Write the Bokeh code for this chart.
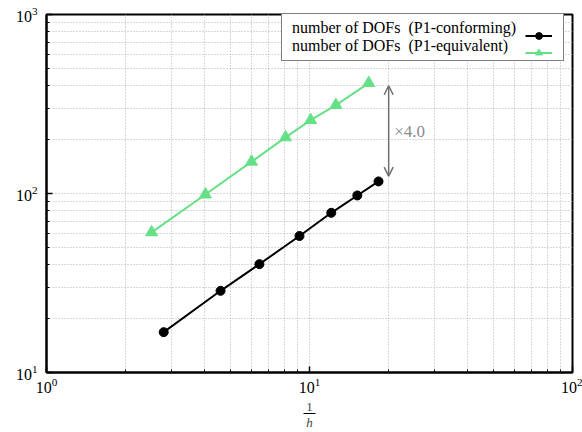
from bokeh.plotting import figure
from bokeh.models import (Legend, LegendItem, Label, Arrow, OpenHead, Range1d,
                          FixedTicker, LogTickFormatter, LogAxis)
from bokeh.embed import file_html
from bokeh.resources import INLINE

# ---- data ----
inv_h_conf = [2.79, 4.59, 6.45, 9.16, 12.1, 15.2, 18.3]
dofs_conf = [16.8, 28.6, 40.3, 57.9, 78.0, 97.5, 116.8]
inv_h_equiv = [2.51, 4.02, 6.02, 8.11, 10.1, 12.6, 16.8]
dofs_equiv = [60.7, 98.7, 150.6, 206.0, 257.0, 312.0, 414.0]
label_conf = "number of DOFs  (P1-conforming)"
label_equiv = "number of DOFs  (P1-equivalent)"
ratio_text = "\u00d74.0"
arrow_x = 20.0
arrow_y_top = 400.0
arrow_y_bottom = 125.0
ratio_x = 21.0
ratio_y = 221.0
x_major = [1, 10, 100]
x_minor = [2, 3, 4, 5, 6, 7, 8, 9, 20, 30, 40, 50, 60, 70, 80, 90]
y_major = [10, 100, 1000]
y_minor = [20, 30, 40, 50, 60, 70, 80, 90, 200, 300, 400, 500, 600, 700, 800, 900]
frac_num = "1"
frac_den = "h"
frac_bar = (9.5, 10.5)

SERIF = "Liberation Serif"
GREEN = "#66e087"
GRAY = "#6e6e6e"

p = figure(width=582, height=432, x_axis_type="log", y_axis_type="log",
           x_range=Range1d(1, 100), y_range=Range1d(10, 1000),
           output_backend="svg", toolbar_location=None,
           min_border_left=46, min_border_right=10, min_border_top=14,
           min_border_bottom=0)
p.background_fill_color = "white"
p.border_fill_color = "white"
p.outline_line_color = "black"
p.outline_line_width = 2
p.outline_line_alpha = 1.0

p.xaxis.ticker = FixedTicker(ticks=x_major, minor_ticks=x_minor)
p.yaxis.ticker = FixedTicker(ticks=y_major, minor_ticks=y_minor)
for ax in (p.xaxis, p.yaxis):
    ax.formatter = LogTickFormatter()
    ax.axis_line_color = "black"
    ax.axis_line_width = 2
    ax.major_tick_in = 6
    ax.major_tick_out = 0
    ax.minor_tick_in = 3
    ax.minor_tick_out = 0
    ax.major_tick_line_color = "black"
    ax.minor_tick_line_color = "black"
    ax.major_tick_line_width = 1.5
    ax.major_label_text_font = SERIF
    ax.major_label_text_font_size = "16px"
    ax.major_label_text_color = "black"
p.xaxis.major_label_standoff = 5
p.yaxis.major_label_standoff = 9

# fraction 1/h below the x axis: numerator as axis label, bar + denominator as an extra axis
p.xaxis.axis_label = frac_num
p.xaxis.axis_label_text_font = SERIF
p.xaxis.axis_label_text_font_style = "normal"
p.xaxis.axis_label_text_font_size = "13px"
p.xaxis.axis_label_standoff = 7
den_axis = LogAxis(ticker=FixedTicker(ticks=[]), bounds=frac_bar,
                   axis_label=frac_den, axis_label_text_font=SERIF,
                   axis_label_text_font_style="italic",
                   axis_label_text_font_size="13px", axis_label_standoff=1,
                   major_tick_in=0, major_tick_out=0, minor_tick_in=0,
                   minor_tick_out=0, major_label_text_font_size="0px",
                   major_label_standoff=0,
                   axis_line_color="black", axis_line_width=1)
p.add_layout(den_axis, "below")

for g in (p.xgrid, p.ygrid):
    g.grid_line_color = "#b0b0b0"
    g.grid_line_dash = "1 2"
    g.grid_line_width = 1
    g.minor_grid_line_color = "#b0b0b0"
    g.minor_grid_line_dash = "1 2"
    g.minor_grid_line_width = 1

# ---- series ----
l1 = p.line(inv_h_conf, dofs_conf, line_color="black", line_width=2)
m1 = p.scatter(inv_h_conf, dofs_conf, marker="circle", size=9,
               fill_color="black", line_color="black")
l2 = p.line(inv_h_equiv, dofs_equiv, line_color=GREEN, line_width=2)
m2 = p.scatter(inv_h_equiv, dofs_equiv, marker="triangle", size=12,
               fill_color=GREEN, line_color=GREEN)

# ---- ratio arrow and text ----
p.add_layout(Arrow(start=OpenHead(size=9, line_color=GRAY, line_width=1.5),
                   end=OpenHead(size=9, line_color=GRAY, line_width=1.5),
                   x_start=arrow_x, y_start=arrow_y_bottom,
                   x_end=arrow_x, y_end=arrow_y_top,
                   line_color=GRAY, line_width=1.5))
p.add_layout(Label(x=ratio_x, y=ratio_y, text=ratio_text, text_font=SERIF,
                   text_font_size="17px", text_color="#8a8a8a",
                   text_baseline="middle", text_align="left"))

# ---- legend: text box, with glyph samples to the right ----
legend_text = Legend(items=[LegendItem(label=label_conf, renderers=[]),
                            LegendItem(label=label_equiv, renderers=[])],
                     location=(235, 311), glyph_width=0, glyph_height=17,
                     label_height=17, label_width=266, label_standoff=5,
                     padding=5, spacing=0, margin=0,
                     label_text_font=SERIF, label_text_font_size="16px",
                     label_text_color="black",
                     border_line_color="black", border_line_width=1,
                     background_fill_color="white", background_fill_alpha=1.0)
legend_glyph = Legend(items=[LegendItem(label="", renderers=[l1, m1]),
                             LegendItem(label="", renderers=[l2, m2])],
                      location=(479, 311), glyph_width=27, glyph_height=17,
                      label_height=17, label_width=0, label_standoff=0,
                      padding=5, spacing=0, margin=0,
                      border_line_color=None, background_fill_alpha=0.0)
p.add_layout(legend_text)
p.add_layout(legend_glyph)

open("out.html", "w").write(file_html(p, INLINE))
